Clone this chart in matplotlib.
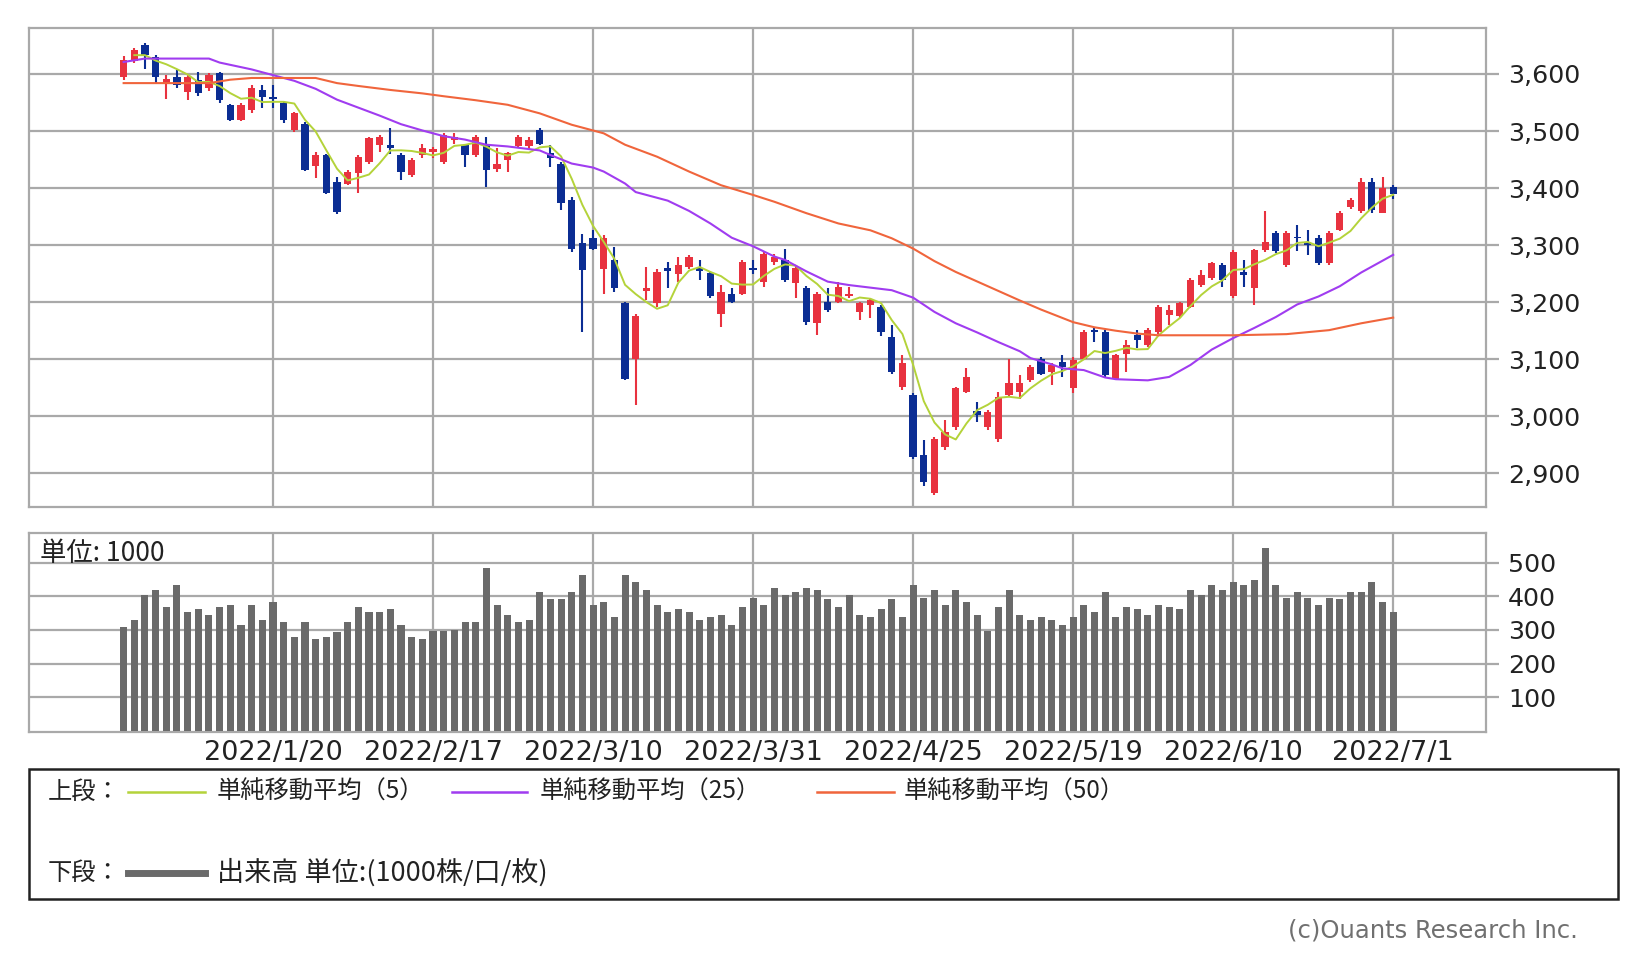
import matplotlib
matplotlib.use('Agg')
import matplotlib.pyplot as plt
import pandas as pd
from matplotlib.lines import Line2D
from matplotlib.patches import Rectangle

# ---------------- data ----------------
opens = [3595,3622,3651,3630,3584,3595,3569,3589,3575,3601,
         3546,3519,3537,3572,3559,3549,3502,3513,3438,3458,
         3411,3408,3426,3446,3475,3475,3458,3423,3458,3464,
         3446,3484,3475,3458,3478,3434,3449,3473,3473,3502,
         3461,3443,3379,3303,3312,3259,3274,3198,3101,3219,
         3198,3260,3250,3262,3260,3251,3180,3215,3215,3260,
         3236,3271,3274,3233,3225,3163,3201,3201,3210,3183,
         3195,3192,3139,3052,3037,2932,2865,2947,2982,3043,
         3010,2982,2961,3037,3043,3064,3101,3078,3095,3049,
         3101,3151,3148,3066,3110,3142,3125,3148,3177,3175,
         3192,3230,3242,3265,3210,3253,3224,3291,3321,3265,
         3315,3306,3312,3268,3327,3367,3359,3411,3356,3402]
closes = [3624,3642,3633,3595,3591,3581,3595,3566,3598,3554,
          3519,3546,3575,3560,3556,3519,3531,3432,3458,3391,
          3358,3428,3455,3487,3490,3470,3429,3449,3470,3468,
          3493,3490,3458,3490,3432,3443,3461,3490,3485,3478,
          3452,3373,3294,3256,3294,3312,3224,3066,3175,3224,
          3253,3255,3265,3280,3255,3210,3218,3200,3271,3256,
          3285,3280,3239,3260,3166,3215,3186,3227,3215,3198,
          3204,3148,3078,3093,2929,2885,2961,2973,3049,3069,
          3002,3008,3034,3058,3058,3087,3075,3090,3087,3099,
          3148,3148,3072,3107,3125,3134,3151,3192,3186,3198,
          3239,3248,3268,3239,3288,3247,3291,3306,3289,3321,
          3312,3300,3268,3321,3356,3379,3411,3361,3400,3390]
highs = [3632,3646,3655,3633,3598,3607,3598,3604,3601,3603,
         3548,3549,3580,3580,3580,3552,3534,3515,3464,3460,
         3420,3431,3458,3490,3493,3505,3461,3452,3478,3472,
         3496,3496,3478,3493,3490,3470,3464,3493,3490,3505,
         3475,3446,3385,3320,3327,3318,3297,3200,3180,3262,
         3259,3271,3280,3283,3274,3254,3230,3224,3274,3274,
         3288,3285,3294,3265,3228,3218,3224,3236,3227,3201,
         3207,3195,3160,3107,3040,2958,2964,2993,3052,3084,
         3025,3011,3043,3101,3073,3090,3104,3093,3107,3104,
         3151,3154,3151,3110,3134,3151,3154,3195,3195,3201,
         3242,3256,3271,3268,3291,3274,3294,3359,3324,3324,
         3336,3327,3318,3324,3359,3382,3417,3417,3420,3405]
lows = [3590,3620,3608,3584,3557,3575,3554,3562,3570,3550,
        3517,3517,3532,3540,3540,3514,3499,3430,3417,3389,
        3355,3405,3391,3443,3464,3460,3414,3420,3452,3452,
        3443,3478,3437,3455,3402,3429,3429,3470,3468,3475,
        3437,3362,3288,3148,3291,3215,3218,3064,3020,3204,
        3192,3224,3236,3259,3239,3207,3157,3198,3212,3250,
        3227,3265,3236,3207,3160,3142,3183,3198,3207,3169,
        3172,3140,3075,3046,2926,2877,2862,2941,2976,3040,
        2990,2976,2955,3034,3031,3060,3072,3055,3069,3040,
        3098,3131,3069,3063,3078,3119,3122,3145,3160,3172,
        3189,3227,3239,3227,3207,3227,3195,3288,3286,3262,
        3289,3283,3265,3265,3324,3364,3356,3356,3356,3380]
volumes = [309,330,404,420,368,434,353,361,345,368,
           375,316,375,330,384,324,278,324,272,278,
           294,324,368,353,353,361,316,278,272,296,
           296,299,324,324,485,375,345,324,330,412,
           392,392,412,464,375,382,338,464,441,420,
           375,353,361,353,330,338,345,316,368,394,
           375,426,404,412,426,420,392,368,404,345,
           338,361,392,338,434,394,420,375,420,382,
           345,296,368,420,345,330,338,330,316,338,
           375,353,412,338,368,361,345,375,368,361,
           420,404,434,420,441,434,449,544,434,394,
           412,394,375,394,392,412,412,441,382,353]

ma25_idx = [0,2,5,8,9,12,14,16,18,20,22,24,26,28,30,32,34,36,39,40,42,44,45,47,48,
            51,53,55,57,59,61,62,64,66,68,72,74,76,78,80,82,84,85,87,88,90,92,93,96,
            98,100,102,104,106,108,110,112,114,116,119]
ma25_val = [3621,3627,3627,3627,3620,3608,3598,3588,3574,3555,3541,3527,3512,3501,3491,
            3485,3476,3473,3466,3458,3443,3436,3429,3408,3393,3378,3360,3338,3313,3298,
            3280,3274,3254,3236,3230,3221,3208,3183,3163,3147,3130,3114,3102,3091,3084,
            3081,3068,3065,3063,3069,3090,3117,3137,3155,3174,3196,3210,3228,3252,3283]
ma50_idx = [0,8,10,12,18,20,22,25,28,30,33,36,39,42,45,47,50,53,56,59,61,64,67,70,72,
            74,76,78,81,84,86,89,91,93,95,97,104,109,113,116,119]
ma50_val = [3584,3584,3590,3593,3593,3584,3579,3572,3566,3561,3554,3546,3531,3511,3496,
            3476,3455,3429,3405,3388,3376,3356,3338,3326,3312,3294,3272,3253,3228,3203,
            3187,3165,3156,3150,3145,3142,3142,3144,3151,3163,3173]

date_labels = ['2022/1/20','2022/2/17','2022/3/10','2022/3/31',
               '2022/4/25','2022/5/19','2022/6/10','2022/7/1']
label_idx = [14, 29, 44, 59, 74, 89, 104, 119]
price_ticks = [2900, 3000, 3100, 3200, 3300, 3400, 3500, 3600]
vol_ticks = [100, 200, 300, 400, 500]

# ---------------- style ----------------
W, H = 1644, 963
RED = '#e8323f'
BLUE = '#0b2d93'
GREEN = '#b4d33a'
PURPLE = '#a03cf0'
ORANGE = '#f0653c'
GRID = '#a9a9a9'
TXT = '#222222'
CJK = ['Noto Sans CJK JP', 'DejaVu Sans']

fig = plt.figure(figsize=(W/100, H/100), dpi=100)
fig.patch.set_facecolor('white')

def fx(px):
    return px / W

def fy(py):
    return 1 - py / H

L, R = 29, 1486
ax = fig.add_axes([fx(L), fy(507), fx(R - L), (507 - 28) / H])
axv = fig.add_axes([fx(L), fy(732), fx(R - L), (732 - 533) / H])

n = len(closes)
xs = list(range(n))

for a in (ax, axv):
    a.set_xlim(-8.87, 127.7)
    a.set_axisbelow(True)
    a.grid(True, color=GRID, lw=1.6)
    for s in a.spines.values():
        s.set_color(GRID)
        s.set_linewidth(1.6)
    a.yaxis.tick_right()
    a.tick_params(axis='y', direction='out', length=9, width=1.6, color=GRID,
                  labelsize=18.2, pad=7, labelcolor=TXT)
    a.set_xticks(label_idx)
    a.tick_params(axis='x', length=0)

# candles
colors = [RED if c >= o else BLUE for o, c in zip(opens, closes)]
ax.vlines(xs, lows, highs, colors=colors, lw=1.5, zorder=3)
bottoms = [min(o, c) for o, c in zip(opens, closes)]
heights = [max(abs(c - o), 2.0) for o, c in zip(opens, closes)]
ax.bar(xs, heights, bottom=bottoms, width=0.68, color=colors, zorder=4)

# moving averages
ma5 = pd.Series(closes).rolling(5, min_periods=2).mean()
ax.plot(xs[1:], ma5[1:], color=GREEN, lw=1.4, zorder=6)
ax.plot(ma25_idx, ma25_val, color=PURPLE, lw=1.5, zorder=6)
ax.plot(ma50_idx, ma50_val, color=ORANGE, lw=1.5, zorder=6)

ax.set_ylim(2841, 3680.6)
ax.set_yticks(price_ticks)
ax.set_yticklabels([f'{v:,}' for v in price_ticks], family='DejaVu Sans')
ax.set_xticklabels([])

# volume
axv.bar(xs, volumes, width=0.66, color='#6a6a6a', zorder=3)
axv.set_ylim(-3, 588)
axv.set_yticks(vol_ticks)
axv.set_yticklabels([str(v) for v in vol_ticks], family='DejaVu Sans')
axv.set_xticklabels(date_labels, fontsize=19.5, color=TXT, family='DejaVu Sans')
axv.tick_params(axis='x', pad=6)

fig.text(fx(40), fy(553), '単位: 1000', fontsize=19, family=CJK, color=TXT,
         ha='left', va='center')

# legend box
fig.patches.append(Rectangle((fx(29), fy(899)), fx(1618 - 29), (899 - 769) / H,
                             transform=fig.transFigure, fill=False,
                             ec='#222222', lw=1.8))
row1, row2 = 792, 873
fig.text(fx(48), fy(row1), '上段：', fontsize=17.5, family=CJK, color=TXT, va='center')
fig.text(fx(48), fy(row2), '下段：', fontsize=17.5, family=CJK, color=TXT, va='center')
legend_lines = [(128, 205, row1, GREEN, 1.8), (452, 527, row1, PURPLE, 1.8),
                (817, 894, row1, ORANGE, 1.8), (128, 205, row2, '#6a6a6a', 5)]
for x0, x1, yy, c, lw in legend_lines:
    fig.lines.append(Line2D([fx(x0), fx(x1)], [fy(yy), fy(yy)], color=c, lw=lw,
                            transform=fig.transFigure))
legend_texts = [(217, row1, '単純移動平均（5）'), (540, row1, '単純移動平均（25）'),
                (904, row1, '単純移動平均（50）'), (217, row2, '出来高 単位:(1000株/口/枚)')]
for x0, yy, s in legend_texts:
    fs = 19.5 if s.startswith('出来高') else 17.5
    fig.text(fx(x0), fy(yy), s, fontsize=fs, family=CJK, color=TXT, va='center')

fig.text(fx(1578), fy(930), '(c)Ouants Research Inc.', fontsize=17.5,
         family='DejaVu Sans', color='#707070', ha='right', va='center')

fig.savefig('out.png', dpi=100, facecolor='white')
